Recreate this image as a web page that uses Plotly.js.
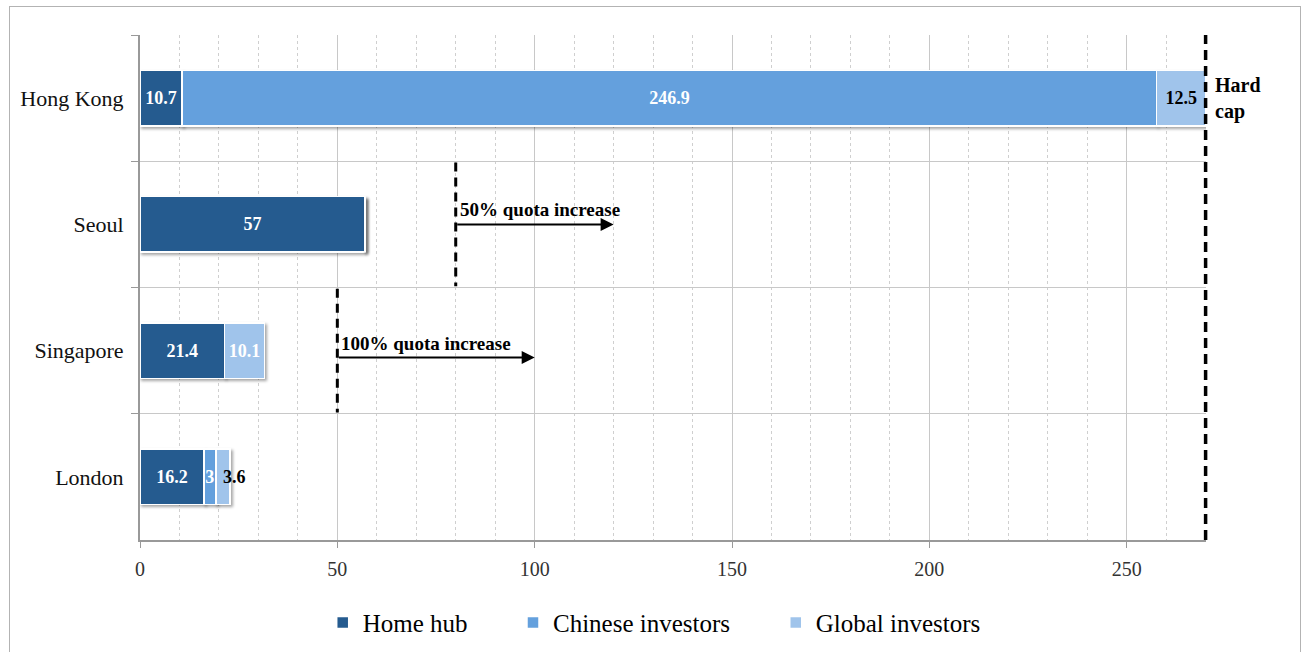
<!DOCTYPE html>
<html><head><meta charset="utf-8">
<script src="https://cdn.plot.ly/plotly-3.0.1.min.js"></script>
<style>
html,body{margin:0;padding:0;background:#fff;overflow:hidden;}
#frame{position:absolute;left:9px;top:6px;width:1292px;height:700px;border:1.5px solid #b3b3b3;box-sizing:border-box;pointer-events:none;z-index:5;}
#chart{position:absolute;left:0;top:0;width:1309px;height:652px;}
.trace.bars .point path{filter:drop-shadow(2px 2px 1.5px rgba(0,0,0,0.35));}
</style></head>
<body>
<div id="chart"></div>
<div id="frame"></div>
<script>
const categories = ["Hong Kong", "Seoul", "Singapore", "London"];
const homeHub = [10.7, 57, 21.4, 16.2];
const chineseInvestors = [246.9, 0, 0, 3];
const globalInvestors = [12.5, 0, 10.1, 3.6];
const hardCap = 270;
const quotaCity = ["Seoul", "Singapore"];
const quotaStart = [80, 50];
const quotaEnd = [120, 100];
const quotaLabel = ["50% quota increase", "100% quota increase"];

const serif = "Liberation Serif, Times New Roman, serif";
const totals = categories.map((c, i) => homeHub[i] + chineseInvestors[i] + globalInvestors[i]);
const xMax = Math.max(hardCap, ...totals);

// London's small global segment label sits outside-right, as an annotation
const outsideIdx = [3];
function lbl(v, skip) {
  return v.map((x, i) => (x > 0 && !(skip || []).includes(i)) ? String(x) : "");
}

function bar(name, vals, color, txtColors, legendId, skip) {
  return {
    type: "bar", orientation: "h", name: name, legend: legendId,
    y: categories, x: vals,
    marker: {color: color, line: {color: "#ffffff", width: 1.5}},
    text: lbl(vals, skip), textposition: "inside", insidetextanchor: "middle",
    textangle: 0, constraintext: "none", cliponaxis: false,
    textfont: {family: serif, size: 18, color: txtColors, weight: "bold"},
    hoverinfo: "skip"
  };
}

const traces = [
  bar("Home hub", homeHub, "#255b8f", ["#fff","#fff","#fff","#fff"], "legend"),
  bar("Chinese investors", chineseInvestors, "#64a0dd", ["#fff","#fff","#fff","#fff"], "legend2"),
  bar("Global investors", globalInvestors, "#a0c4eb", ["#000","#fff","#fff","#000"], "legend3", outsideIdx)
];

const shapes = [{
  type: "line", xref: "x domain", yref: "y domain", x0: hardCap / xMax, x1: hardCap / xMax, y0: 0, y1: 1,
  line: {color: "#000", width: 3.5, dash: "10px,6px"}
}];
const annotations = [{
  xref: "x", yref: "y", x: hardCap, y: 0, xanchor: "left", yanchor: "middle", xshift: 7,
  text: "<b>Hard<br>cap</b>", showarrow: false, align: "left",
  font: {family: serif, size: 20, color: "#000"}
}];
outsideIdx.forEach(i => {
  annotations.push({
    xref: "x", yref: "y", x: totals[i] - globalInvestors[i] / 2, y: i, xanchor: "left", yanchor: "middle",
    xshift: -2, text: "<b>" + globalInvestors[i] + "</b>", showarrow: false,
    font: {family: serif, size: 18, color: "#000"}
  });
});
quotaCity.forEach((c, i) => {
  const idx = categories.indexOf(c);
  const yArrow = idx + (i === 1 ? 0.055 : 0);
  shapes.push({
    type: "line", xref: "x", yref: "y", x0: quotaStart[i], x1: quotaStart[i],
    y0: idx - 0.49, y1: idx + 0.49,
    line: {color: "#000", width: 3, dash: "9px,6px"}
  });
  annotations.push({
    xref: "x", yref: "y", axref: "x", ayref: "y",
    x: quotaEnd[i], y: yArrow, ax: quotaStart[i], ay: yArrow,
    showarrow: true, arrowhead: 2, arrowsize: 1.3, arrowwidth: 2, arrowcolor: "#000", text: ""
  });
  annotations.push({
    xref: "x", yref: "y", x: quotaStart[i], y: yArrow, xanchor: "left", yanchor: "bottom",
    xshift: 2, yshift: 2, text: "<b>" + quotaLabel[i] + "</b>", showarrow: false,
    font: {family: serif, size: 19, color: "#000"}
  });
});

const legendBase = {orientation: "h", xanchor: "left", yref: "container", y: 0.080, yanchor: "top",
  font: {family: serif, size: 25, color: "#000"}, bgcolor: "rgba(0,0,0,0)"};
const legendX = [0.1714, 0.3499, 0.5964];

const layout = {
  width: 1309, height: 652,
  margin: {l: 140, r: 103, t: 35, b: 112, autoexpand: false},
  paper_bgcolor: "#fff", plot_bgcolor: "#fff",
  barmode: "stack", bargap: 0.56,
  showlegend: true,
  legend: Object.assign({}, legendBase, {x: legendX[0]}),
  legend2: Object.assign({}, legendBase, {x: legendX[1]}),
  legend3: Object.assign({}, legendBase, {x: legendX[2]}),
  xaxis: {
    range: [0, xMax], dtick: 50, tick0: 0,
    showgrid: true, gridcolor: "#c8c8c8", gridwidth: 1,
    minor: {dtick: 10, showgrid: true, gridcolor: "#cfcfcf", griddash: "dot", gridwidth: 1},
    showline: true, linecolor: "#999", linewidth: 1.5,
    ticks: "outside", ticklen: 6, tickcolor: "#999",
    ticklabelstandoff: 4,
    tickfont: {family: serif, size: 20, color: "#333"},
    zeroline: false, fixedrange: true, automargin: false
  },
  yaxis: {
    type: "category", categoryorder: "array", categoryarray: categories,
    autorange: "reversed",
    tickson: "boundaries", showgrid: true, gridcolor: "#c8c8c8", gridwidth: 1,
    showline: true, linecolor: "#999", linewidth: 2,
    ticks: "outside", ticklen: 7, tickcolor: "#999",
    ticklabelstandoff: 10,
    tickfont: {family: serif, size: 22, color: "#111"},
    fixedrange: true, automargin: false
  },
  shapes: shapes,
  annotations: annotations
};

Plotly.newPlot("chart", traces, layout, {displayModeBar: false, staticPlot: true});
</script>
</body></html>
